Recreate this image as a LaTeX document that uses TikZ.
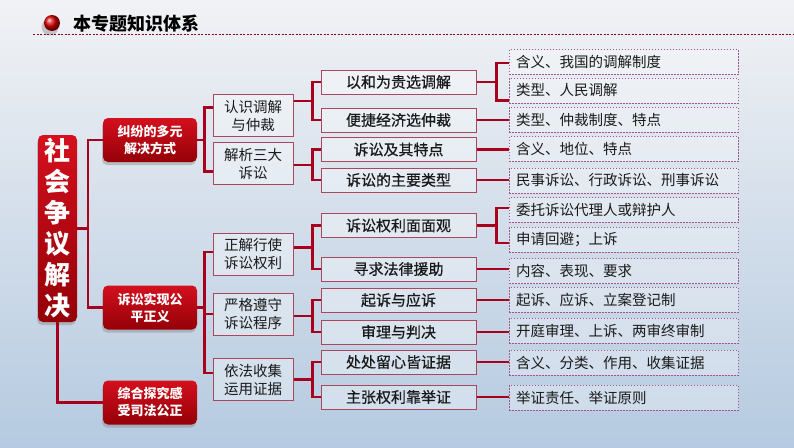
\documentclass[tikz,border=0pt]{standalone}
\usepackage{fontspec}
\newfontfamily\cjk{Noto Sans CJK SC}
\newfontfamily\cjkm[FakeBold=0.6]{Noto Sans CJK SC}
\usetikzlibrary{shadows,calc}
\definecolor{bgtop}{HTML}{F1F2F5}
\definecolor{bgmid}{HTML}{D8E0EA}
\definecolor{bgbot}{HTML}{B5CAE0}
\definecolor{linkred}{HTML}{A8001C}
\definecolor{boxline}{HTML}{A8485C}
\definecolor{dotline}{HTML}{A0568A}
\definecolor{redtop}{HTML}{D4101E}
\definecolor{redbot}{HTML}{940008}
\definecolor{txt}{HTML}{1A1A1A}
\newcommand\mybrk[3]{%
  \draw[link] (#2.west) -- ++(-8,0) |- (#3.west);
  \coordinate (m#1) at ($(#2.west)!0.5!(#3.west)+(-8,0)$);
  \draw[link] (m#1) -- (m#1 -| #1.east);}
\begin{document}
\begin{tikzpicture}[x=1pt,y=-1pt,
  link/.style={draw=linkred,line width=2.5pt},
  redbox/.style={rounded corners=5pt,top color=redtop,bottom color=redbot,draw=none,
    text=white,align=center,inner sep=0pt,
    drop shadow={opacity=0.4,shadow xshift=-1pt,shadow yshift=-3pt}},
  rootbox/.style={redbox,minimum width=39pt,minimum height=187pt,
    font=\cjk\bfseries\fontsize{26}{31}\selectfont},
  lvtwo/.style={redbox,minimum width=94pt,minimum height=44pt,
    font=\cjk\bfseries\fontsize{13}{17}\selectfont},
  plainbox/.style={draw=boxline,line width=1pt,fill=white,fill opacity=0.35,
    text opacity=1,draw opacity=1,text=txt,align=center,inner sep=0pt},
  lvthree/.style={plainbox,minimum width=80pt,minimum height=42pt,
    font=\cjk\fontsize{14.5}{18}\selectfont},
  lvfour/.style={plainbox,minimum width=155pt,minimum height=24pt,
    font=\cjkm\fontsize{15}{17}\selectfont},
  lvfive/.style={draw=dotline,line width=0.8pt,dash pattern=on 1.5pt off 1.5pt,
    fill=white,fill opacity=0.3,text opacity=1,draw opacity=1,text=txt,
    minimum height=25pt,text width=215pt,inner xsep=7pt,inner ysep=0pt,align=left,
    font=\cjk\fontsize{14.5}{17}\selectfont}
]
\useasboundingbox (0,0) rectangle (794,447);
\shade[top color=bgtop,middle color=bgmid,bottom color=bgbot] (0,0) rectangle (794,447);

% header
\fill[black,opacity=0.18] (50,27) circle (8.5);
\shade[ball color=red!85!black] (52,23) circle (8);
\node[anchor=west,text=black,font=\cjk\bfseries\fontsize{18}{18}\selectfont,inner sep=0pt] (title) at (73,24) {本专题知识体系};
\draw[draw=linkred!80!black,line width=0.8pt,dash pattern=on 2pt off 1.5pt] (33,34) -- (794,34);

% root and level 2
\node[rootbox] (root) at (57.5,228.5) {社\\会\\争\\议\\解\\决};
\node[lvtwo] (n1) at (150,140) {纠纷的多元\\解决方式};
\node[lvtwo] (n2) at (150,307.5) {诉讼实现公\\平正义};
\node[lvtwo] (n3) at (150,402.5) {综合探究感\\受司法公正};

% level 3
\node[lvthree] (l3a) at (253,115.5) {认识调解\\与仲裁};
\node[lvthree] (l3b) at (253,163.5) {解析三大\\诉讼};
\node[lvthree] (l3c) at (253,254.5) {正解行使\\诉讼权利};
\node[lvthree] (l3d) at (253,314) {严格遵守\\诉讼程序};
\node[lvthree] (l3e) at (253,379.5) {依法收集\\运用证据};

% level 4
\node[lvfour] (l4a) at (398.5,82) {以和为贵选调解};
\node[lvfour] (l4b) at (398.5,120) {便捷经济选仲裁};
\node[lvfour] (l4c) at (398.5,149.5) {诉讼及其特点};
\node[lvfour] (l4d) at (398.5,180) {诉讼的主要类型};
\node[lvfour] (l4e) at (398.5,225.5) {诉讼权利面面观};
\node[lvfour] (l4f) at (398.5,269) {寻求法律援助};
\node[lvfour] (l4g) at (398.5,300) {起诉与应诉};
\node[lvfour] (l4h) at (398.5,332) {审理与判决};
\node[lvfour] (l4i) at (398.5,362) {处处留心皆证据};
\node[lvfour] (l4j) at (398.5,397) {主张权利靠举证};

% level 5
\node[lvfive] (l5a) at (623.5,62) {含义、我国的调解制度};
\node[lvfive] (l5b) at (623.5,90.5) {类型、人民调解};
\node[lvfive] (l5c) at (623.5,119.5) {类型、仲裁制度、特点};
\node[lvfive] (l5d) at (623.5,149) {含义、地位、特点};
\node[lvfive] (l5e) at (623.5,180.5) {民事诉讼、行政诉讼、刑事诉讼};
\node[lvfive] (l5f) at (623.5,210) {委托诉讼代理人或辩护人};
\node[lvfive] (l5g) at (623.5,239.5) {申请回避；上诉};
\node[lvfive] (l5h) at (623.5,271) {内容、表现、要求};
\node[lvfive] (l5i) at (623.5,299.5) {起诉、应诉、立案登记制};
\node[lvfive] (l5j) at (623.5,330.5) {开庭审理、上诉、两审终审制};
\node[lvfive] (l5k) at (623.5,362.5) {含义、分类、作用、收集证据};
\node[lvfive] (l5l) at (623.5,397.5) {举证责任、举证原则};

% root connectors
\draw[link] (root.east) -- ++(11,0);
\draw[link] (n1.west) -- ++(-15,0) |- (n2.west);
\draw[link] (root.south) |- (n3.west);

% level 2 -> 3
\draw[link] (n1.east) -- ++(8,0);
\draw[link] ($(l3a.west)+(0,-8)$) -- ++(-8,0) |- ($(l3b.west)+(0,8)$);
\draw[link] (n2.east) -- ++(8,0);
\draw[link] ($(l3c.west)+(0,-2.5)$) -- ++(-8,0) |- ($(l3e.west)+(0,-6.5)$);
\draw[link] (l3d.west) -- ++(-8,0);

% level 3 -> 4
\mybrk{l3a}{l4a}{l4b}
\mybrk{l3b}{l4c}{l4d}
\mybrk{l3c}{l4e}{l4f}
\mybrk{l3d}{l4g}{l4h}
\mybrk{l3e}{l4i}{l4j}

% level 4 -> 5
\draw[link] (l4a.east) -- ++(21,0);
\draw[link] ($(l5a.west)+(0,1)$) -- ++(-12,0) |- ($(l5b.west)+(0,10)$);
\draw[link] (l4e.east) -- ++(21,0);
\draw[link] ($(l5f.west)+(0,-2)$) -- ++(-12,0) |- ($(l5g.west)+(0,3.5)$);
\draw[link] (l4b.east) -- (l4b.east -| l5c.west);
\draw[link] (l4c.east) -- (l4c.east -| l5d.west);
\draw[link] (l4d.east) -- (l4d.east -| l5e.west);
\draw[link] (l4f.east) -- (l4f.east -| l5h.west);
\draw[link] (l4g.east) -- (l4g.east -| l5i.west);
\draw[link] (l4h.east) -- (l4h.east -| l5j.west);
\draw[link] (l4i.east) -- (l4i.east -| l5k.west);
\draw[link] (l4j.east) -- (l4j.east -| l5l.west);
\end{tikzpicture}
\end{document}
